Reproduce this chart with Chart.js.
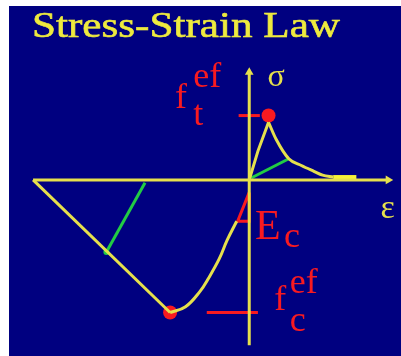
<!DOCTYPE html>
<html>
<head>
<meta charset="utf-8">
<script src="https://cdn.jsdelivr.net/npm/chart.js@4/dist/chart.umd.min.js"></script>
<style>
  html, body { margin: 0; padding: 0; background: #ffffff; }
  #wrap { width: 401px; height: 356px; }
</style>
</head>
<body>
<div id="wrap"><canvas id="c" width="401" height="356"></canvas></div>
<script>
// Stress-strain law of concrete: strain ε on x, stress σ on y (arbitrary units)
const axisEps = [[-22.4, 0], [14.4, 0]];
const axisSig = [[0, -17.2], [0, 11.2]];

// tension branch: linear rise to f_t, then softening tail
const riseEps = [0.0, 0.9, 2.0];
const riseSig = [0.0, 3.0, 6.0];
const softEps = [2.0, 2.8, 4.1, 5.4, 6.7, 7.6, 8.7];
const softSig = [6.0, 4.2, 2.2, 1.5, 0.9, 0.5, 0.3];
const tailEps = [8.7, 11.1];
const tailSig = [0.3, 0.3];

// compression branch: ascending curve from origin to f_c, linear descent to zero
const compCurveEps = [-1.3, -2.3, -3.1, -4.2, -5.1, -6.6, -8.2];
const compCurveSig = [-4.3, -6.3, -8.2, -10.2, -11.6, -13.2, -13.8];
const compLineEps = [-8.2, -22.4];
const compLineSig = [-13.8, 0];

// unloading paths
const unloadTEps = [4.1, 0.2];
const unloadTSig = [2.2, 0.2];
const unloadCEps = [-10.8, -14.8];
const unloadCSig = [-0.3, -7.5];

// strength levels and initial modulus triangle
const ftEps = 2.0, ftSig = 6.7;
const fcEps = -8.2, fcSig = -13.8;
const ftTickEps = [-1.1, 1.1];
const fcTickEps = [-4.4, 0.9];
const ecTriEps = [0, -1.2, 0, 0];
const ecTriSig = [-1.3, -4.3, -4.3, -1.3];

const YEL = '#e6e04c';
const RED = '#f81a20';
const GRN = '#22cc44';
const NAVY = '#000080';

const pts = (xs, ys) => xs.map((x, i) => ({ x: x, y: ys[i] }));
const pair = a => a.map(p => ({ x: p[0], y: p[1] }));

function line(data, color, width, extra) {
  return Object.assign({
    type: 'line', data: data, borderColor: color, backgroundColor: color,
    borderWidth: width, pointRadius: 0, showLine: true, fill: false, tension: 0
  }, extra || {});
}

const bgPlugin = {
  id: 'bg',
  beforeDraw(chart) {
    const ctx = chart.ctx;
    ctx.save();
    ctx.fillStyle = '#ffffff';
    ctx.fillRect(0, 0, chart.width, chart.height);
    ctx.fillStyle = NAVY;
    ctx.fillRect(9, 6, chart.width - 9, chart.height - 6);
    ctx.restore();
  }
};

const labelPlugin = {
  id: 'labels',
  afterDraw(chart) {
    const ctx = chart.ctx;
    const xs = chart.scales.x, ys = chart.scales.y;
    const X = v => xs.getPixelForValue(v);
    const Y = v => ys.getPixelForValue(v);
    const serif = "'Liberation Serif', 'DejaVu Serif', serif";
    ctx.save();
    ctx.textBaseline = 'alphabetic';
    ctx.textAlign = 'left';

    // title, stretched to its box
    ctx.fillStyle = '#eeea3e';
    ctx.font = '36px ' + serif;
    const title = 'Stress-Strain Law';
    const w = ctx.measureText(title).width;
    ctx.save();
    ctx.translate(32, 37);
    ctx.scale(308 / w, 1);
    ctx.fillText(title, 0, 0);
    ctx.lineWidth = 0.6; ctx.strokeStyle = '#eeea3e';
    ctx.strokeText(title, 0, 0);
    ctx.restore();

    // axis labels
    ctx.fillStyle = YEL;
    ctx.font = '32px ' + serif;
    ctx.fillText('σ', X(1.9), Y(9.8));
    ctx.font = '34px ' + serif;
    ctx.fillText('ε', X(13.6), Y(-4.0));

    // strength and modulus labels
    ctx.fillStyle = RED;
    ctx.font = '36px ' + serif;
    ctx.fillText('f', X(-7.7), Y(7.5));
    ctx.fillText('ef', X(-5.8), Y(9.7));
    ctx.fillText('t', X(-5.8), Y(5.7));

    ctx.font = '42px ' + serif;
    ctx.fillText('E', X(0.6), Y(-6.2));
    ctx.font = '36px ' + serif;
    ctx.fillText('c', X(3.6), Y(-7.0));

    ctx.font = '36px ' + serif;
    ctx.fillText('f', X(2.6), Y(-13.5));
    ctx.fillText('ef', X(4.2), Y(-11.8));
    ctx.fillText('c', X(4.2), Y(-15.7));
    ctx.restore();
  }
};

new Chart(document.getElementById('c'), {
  type: 'scatter',
  data: {
    datasets: [
      line(pair(axisEps), YEL, 3),
      line(pair(axisSig), YEL, 3),
      line([{ x: 0, y: 11.2 }], YEL, 0, { showLine: false, pointStyle: 'triangle', pointRadius: 5, rotation: 0 }),
      line([{ x: 14.4, y: 0 }], YEL, 0, { showLine: false, pointStyle: 'triangle', pointRadius: 5, rotation: 90 }),
      line(pts(riseEps, riseSig), YEL, 3),
      line(pts(softEps, softSig), YEL, 3, { cubicInterpolationMode: 'monotone' }),
      line(pts(tailEps, tailSig), '#f6f238', 4),
      line(pts(unloadTEps, unloadTSig), GRN, 3),
      line(pts(compLineEps, compLineSig), YEL, 3),
      line(pts(compCurveEps, compCurveSig), YEL, 3, { tension: 0.4 }),
      line(pts(unloadCEps, unloadCSig), GRN, 3),
      line([{ x: unloadCEps[1], y: unloadCSig[1] }], GRN, 0, { showLine: false, pointRadius: 3 }),
      line(pts(ecTriEps, ecTriSig), RED, 3),
      line(pts(ftTickEps, [ftSig, ftSig]), RED, 3),
      line(pts(fcTickEps, [fcSig, fcSig]), RED, 3),
      line([{ x: ftEps, y: ftSig }, { x: fcEps, y: fcSig }], RED, 0, { showLine: false, pointRadius: 7 })
    ]
  },
  options: {
    responsive: false,
    animation: false,
    events: [],
    layout: { padding: 0 },
    plugins: { legend: { display: false }, tooltip: { enabled: false } },
    scales: {
      x: { type: 'linear', display: false, min: -25.1, max: 15.0 },
      y: { type: 'linear', display: false, min: -17.6, max: 18.0 }
    }
  },
  plugins: [bgPlugin, labelPlugin]
});
</script>
</body>
</html>
